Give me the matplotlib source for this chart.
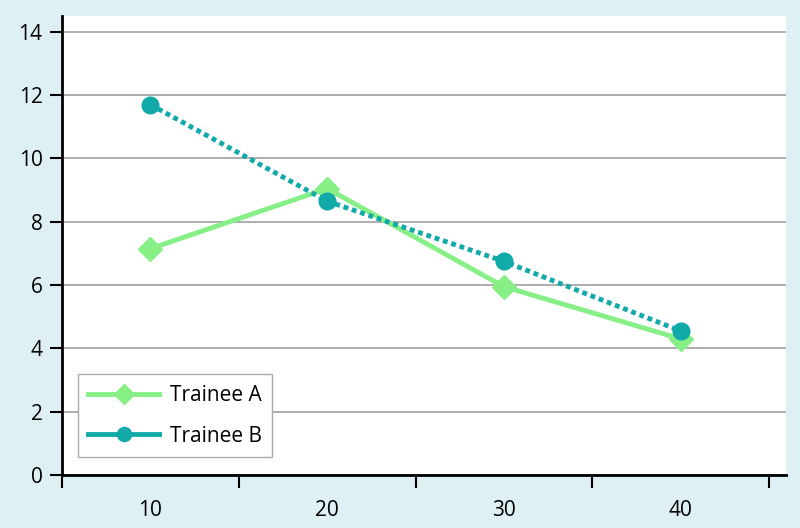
import matplotlib
matplotlib.use('Agg')
import matplotlib.pyplot as plt
import matplotlib.ticker as ticker

plt.rcParams['font.family'] = ['Open Sans', 'DejaVu Sans']

categories = ['10', '20', '30', '40']
trainee_a = [7.15, 9.05, 5.95, 4.3]
trainee_b = [11.7, 8.65, 6.75, 4.55]
y_ticks = [0, 2, 4, 6, 8, 10, 12, 14]

bg = '#dff0f5'
green = '#86f086'
teal = '#12a9a9'

fig = plt.figure(figsize=(8, 5.28), dpi=100, facecolor=bg)
ax = fig.add_axes([62 / 800, 53 / 528, 724 / 800, 459 / 528])
ax.set_facecolor('white')

x = list(range(len(categories)))
ax.plot(x, trainee_a, color=green, lw=3.5, marker='D', ms=12, label='Trainee A', zorder=3)
ax.plot(x, trainee_b, color=teal, lw=3.5, ls=(0, (1, 0.8)), marker='o', ms=12,
        label='Trainee B', zorder=4)

ax.set_xlim(-0.5, 3.596)
ax.set_ylim(0, 14.5)

# category labels centred, tick marks on boundaries
ax.xaxis.set_major_locator(ticker.FixedLocator([-0.5, 0.5, 1.5, 2.5, 3.5]))
ax.xaxis.set_major_formatter(ticker.NullFormatter())
ax.xaxis.set_minor_locator(ticker.FixedLocator(x))
ax.xaxis.set_minor_formatter(ticker.FixedFormatter(categories))
ax.tick_params(axis='x', which='major', direction='out', length=9, width=1.5, color='black')
ax.tick_params(axis='x', which='minor', length=0, pad=18, labelsize=15)

ax.set_yticks(y_ticks)
ax.tick_params(axis='y', direction='out', length=9, width=1.5, pad=5, labelsize=15)

ax.grid(axis='y', color='#a0a0a0', lw=1.2)
ax.set_axisbelow(True)

for s in ['top', 'right']:
    ax.spines[s].set_visible(False)
for s in ['left', 'bottom']:
    ax.spines[s].set_linewidth(2)
    ax.spines[s].set_color('black')

leg = ax.legend(loc='lower left', bbox_to_anchor=(0.022, 0.039), borderaxespad=0,
                fontsize=15, fancybox=False, framealpha=1, edgecolor='#aaaaaa',
                handlelength=3.4, handletextpad=0.5, borderpad=0.5,
                labelspacing=0.95, markerscale=0.85)
leg.get_frame().set_linewidth(1)
# legend shows solid lines for both series
for line in leg.get_lines():
    line.set_linestyle('-')

fig.savefig('out.png', dpi=100, facecolor=bg)
